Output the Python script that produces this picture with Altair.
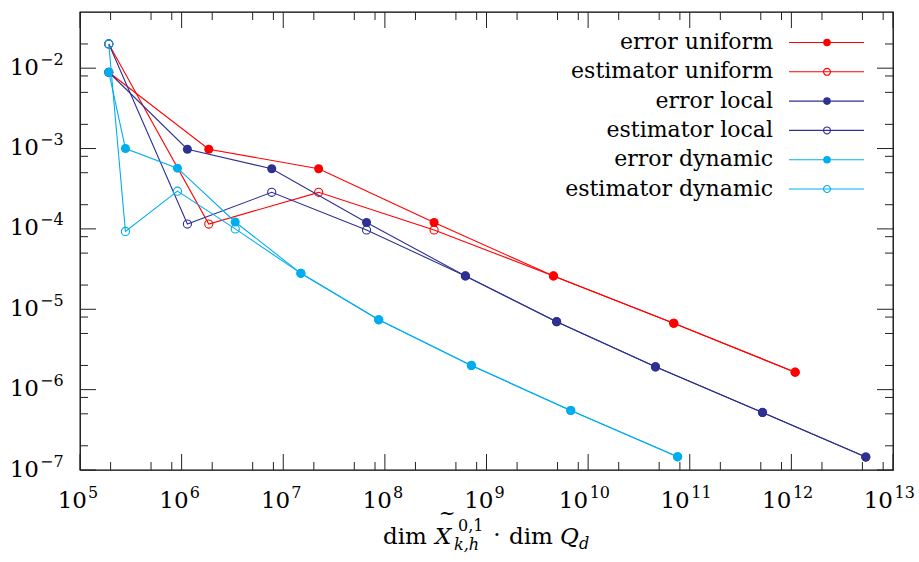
import altair as alt
import pandas as pd

# ---------------- data ----------------
series_names = ["error uniform", "estimator uniform", "error local",
                "estimator local", "error dynamic", "estimator dynamic"]
series_colors = ["#FF0000", "#FF0000", "#2E3192", "#2E3192", "#00AEEF", "#00AEEF"]
series_filled = [True, False, True, False, True, False]

x_uniform = [1.92e5, 1.85e6, 2.23e7, 3.05e8, 4.56e9, 6.96e10, 1.09e12]
err_uniform = [8.9e-3, 9.8e-4, 5.6e-4, 1.2e-4, 2.6e-5, 6.7e-6, 1.65e-6]
est_uniform = [2.0e-2, 1.15e-4, 2.85e-4, 9.7e-5, 2.6e-5, 6.7e-6, 1.65e-6]

x_local = [1.92e5, 1.14e6, 7.7e6, 6.6e7, 6.2e8, 4.9e9, 4.6e10, 5.2e11, 5.4e12]
err_local = [8.9e-3, 9.8e-4, 5.6e-4, 1.2e-4, 2.6e-5, 7.0e-6, 1.92e-6, 5.2e-7, 1.45e-7]
est_local = [2.0e-2, 1.15e-4, 2.85e-4, 9.7e-5, 2.6e-5, 7.0e-6, 1.92e-6, 5.2e-7, 1.45e-7]

x_dynamic = [1.92e5, 2.8e5, 9.1e5, 3.37e6, 1.49e7, 8.7e7, 7.1e8, 6.75e9, 7.6e10]
err_dynamic = [8.9e-3, 1.0e-3, 5.7e-4, 1.22e-4, 2.8e-5, 7.4e-6, 2.0e-6, 5.5e-7, 1.46e-7]
est_dynamic = [2.0e-2, 9.3e-5, 2.95e-4, 1.0e-4, 2.8e-5, 7.4e-6, 2.0e-6, 5.5e-7, 1.46e-7]

x_major_exps = [5, 6, 7, 8, 9, 10, 11, 12, 13]
y_major_exps = [-7, -6, -5, -4, -3, -2]
minor_mults = [2, 5, 8]

# ---------------- layout ----------------
W, H = 813, 458
FONT = "DejaVu Serif"
LABEL_SIZE = 23
LEGEND_SIZE = 22
SUP_SIZE = 16
TICK_COLOR = "#222222"

xs = alt.Scale(type="log", domain=[1e5, 1e13], nice=False)
ys = alt.Scale(type="log", domain=[1e-7, 0.05], nice=False)

xs_all = [x_uniform, x_uniform, x_local, x_local, x_dynamic, x_dynamic]
ys_all = [err_uniform, est_uniform, err_local, est_local, err_dynamic, est_dynamic]

layers = []

# ---- tick marks (inside, mirrored) ----
x_major = [10.0 ** e for e in x_major_exps]
x_minor = [m * 10.0 ** e for e in x_major_exps[:-1] for m in minor_mults]
y_major = [10.0 ** e for e in y_major_exps]
y_minor = [m * 10.0 ** e for e in y_major_exps for m in minor_mults if m * 10.0 ** e < 0.049]

def xticks(vals, length):
    d = pd.DataFrame({"v": vals})
    base = alt.Chart(d)
    bottom = base.mark_rule(color=TICK_COLOR, strokeWidth=1).encode(
        x=alt.X("v:Q", scale=xs, axis=None), y=alt.value(H), y2=alt.value(H - length))
    top = base.mark_rule(color=TICK_COLOR, strokeWidth=1).encode(
        x=alt.X("v:Q", scale=xs, axis=None), y=alt.value(0), y2=alt.value(length))
    return [bottom, top]

def yticks(vals, length):
    d = pd.DataFrame({"v": vals})
    base = alt.Chart(d)
    left = base.mark_rule(color=TICK_COLOR, strokeWidth=1).encode(
        y=alt.Y("v:Q", scale=ys, axis=None), x=alt.value(0), x2=alt.value(length))
    right = base.mark_rule(color=TICK_COLOR, strokeWidth=1).encode(
        y=alt.Y("v:Q", scale=ys, axis=None), x=alt.value(W), x2=alt.value(W - length))
    return [left, right]

layers += xticks(x_major, 16) + xticks(x_minor, 8)
layers += yticks(y_major, 16) + yticks(y_minor, 8)

# ---- series ----
for name, col, filled, xv, yv in zip(series_names, series_colors, series_filled, xs_all, ys_all):
    d = pd.DataFrame({"x": xv, "y": yv, "i": list(range(len(xv))), "series": name})
    base = alt.Chart(d).encode(
        x=alt.X("x:Q", scale=xs, axis=None),
        y=alt.Y("y:Q", scale=ys, axis=None),
    )
    layers.append(base.mark_line(color=col, strokeWidth=1.1).encode(order="i:Q"))
    if filled:
        layers.append(base.mark_point(filled=True, color=col, size=82, opacity=1, shape="circle"))
    else:
        layers.append(base.mark_point(filled=False, color=col, size=66, strokeWidth=1.1,
                                      opacity=1, shape="circle"))

# ---- tick labels ----
def sup(e):
    return ("\u2212" + str(-e)) if e < 0 else str(e)

xl = pd.DataFrame({"v": x_major, "exp": [sup(e) for e in x_major_exps],
                   "n": [len(str(e)) for e in x_major_exps]})
for nd, dx10, dxe in [(1, 7, 8), (2, 0, 1.5)]:
    base = alt.Chart(xl).transform_filter(f"datum.n == {nd}")
    layers.append(base.mark_text(text="10", font=FONT, fontSize=LABEL_SIZE, align="right",
                                 baseline="alphabetic", dx=dx10, color="black").encode(
        x=alt.X("v:Q", scale=xs, axis=None), y=alt.value(H + 38)))
    layers.append(base.mark_text(font=FONT, fontSize=SUP_SIZE, align="left",
                                 baseline="alphabetic", dx=dxe, color="black").encode(
        x=alt.X("v:Q", scale=xs, axis=None), y=alt.value(H + 28), text="exp:N"))

yl = pd.DataFrame({"v": y_major, "exp": [sup(e) for e in y_major_exps]})
layers.append(alt.Chart(yl).mark_text(text="10", font=FONT, fontSize=LABEL_SIZE, align="right",
                                      baseline="alphabetic", dy=6.5, color="black").encode(
    y=alt.Y("v:Q", scale=ys, axis=None), x=alt.value(-41)))
layers.append(alt.Chart(yl).mark_text(font=FONT, fontSize=SUP_SIZE, align="left",
                                      baseline="alphabetic", dy=-3.5, color="black").encode(
    y=alt.Y("v:Q", scale=ys, axis=None), x=alt.value(-40), text="exp:N"))

# ---- legend (drawn by hand, top right inside the frame) ----
one = pd.DataFrame({"a": [0]})
LEG_TEXT_X = 693
LEG_LINE_X0, LEG_LINE_X1 = 709, 784
LEG_MARK_X = 747
LEG_Y0, LEG_DY = 30.5, 29.3
for i, (name, col, filled) in enumerate(zip(series_names, series_colors, series_filled)):
    yc = LEG_Y0 + i * LEG_DY
    c = alt.Chart(one)
    layers.append(c.mark_text(text=name, font=FONT, fontSize=LEGEND_SIZE, align="right",
                              baseline="alphabetic", color="black").encode(
        x=alt.value(LEG_TEXT_X), y=alt.value(yc + 6.5)))
    layers.append(c.mark_rule(color=col, strokeWidth=1.1).encode(
        x=alt.value(LEG_LINE_X0), x2=alt.value(LEG_LINE_X1), y=alt.value(yc)))
    if filled:
        layers.append(c.mark_point(filled=True, color=col, size=58, opacity=1, shape="circle").encode(
            x=alt.value(LEG_MARK_X), y=alt.value(yc)))
    else:
        layers.append(c.mark_point(filled=False, color=col, size=48, strokeWidth=1.1, opacity=1,
                                   shape="circle").encode(x=alt.value(LEG_MARK_X), y=alt.value(yc)))

# ---- x axis title: dim X~^{0,1}_{k,h} . dim Q_d ----
TB = H + 74  # baseline of the title
X0 = 303     # left of the title in plot coordinates

def piece(text, x, y, size, italic=False, align="left"):
    return alt.Chart(one).mark_text(text=text, font=FONT, fontSize=size, align=align,
                                    baseline="alphabetic", color="black",
                                    fontStyle="italic" if italic else "normal").encode(
        x=alt.value(x), y=alt.value(y))

layers += [
    piece("dim", X0, TB, LABEL_SIZE),
    piece("X", X0 + 52, TB, LABEL_SIZE, italic=True),
    piece("~", X0 + 64, TB - 24, 20, align="center"),
    piece("0,1", X0 + 75, TB - 13, SUP_SIZE),
    piece("k,h", X0 + 71, TB + 6, SUP_SIZE, italic=True),
    piece("\u00b7", X0 + 114, TB - 2, LABEL_SIZE, align="center"),
    piece("dim", X0 + 126, TB, LABEL_SIZE),
    piece("Q", X0 + 177, TB, LABEL_SIZE, italic=True),
    piece("d", X0 + 196, TB + 5, SUP_SIZE, italic=True),
]

chart = alt.layer(*layers).properties(
    width=W, height=H,
    autosize=alt.AutoSizeParams(type="none"),
    padding={"left": 80, "top": 12, "right": 26, "bottom": 92},
).configure_view(stroke="black", strokeWidth=1.3)

chart.save("out.html", embed_options={"renderer": "svg", "actions": False})
